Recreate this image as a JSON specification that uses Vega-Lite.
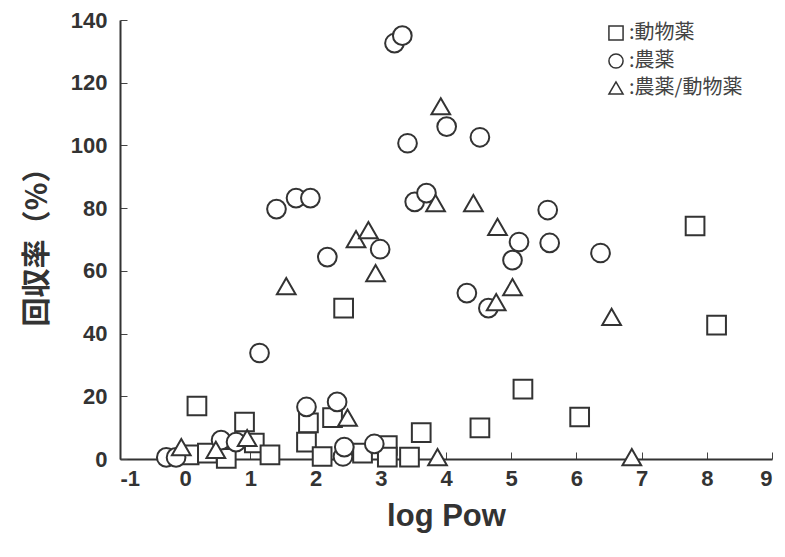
{
  "$schema": "https://vega.github.io/schema/vega-lite/v6.json",
  "width": 652,
  "height": 439,
  "autosize": "none",
  "padding": {"left": 120, "top": 20, "right": 13, "bottom": 98},
  "background": "white",
  "config": {
    "view": {"stroke": null},
    "axis": {
      "grid": false,
      "domainColor": "#333",
      "domainWidth": 2,
      "tickColor": "#444",
      "tickWidth": 1,
      "tickSize": -7,
      "labelFont": "Liberation Sans",
      "labelFontWeight": "bold",
      "labelFontSize": 22,
      "labelColor": "#333",
      "titleColor": "#333",
      "labelExpr": "'' + datum.value"
    }
  },
  "data": {
    "values": [
      {"logPow": 0.18, "rate": 16.9, "type": "動物薬"},
      {"logPow": 0.91, "rate": 11.8, "type": "動物薬"},
      {"logPow": 0.06, "rate": 1.3, "type": "動物薬"},
      {"logPow": 0.34, "rate": 1.9, "type": "動物薬"},
      {"logPow": 0.63, "rate": 0.2, "type": "動物薬"},
      {"logPow": 1.06, "rate": 5.1, "type": "動物薬"},
      {"logPow": 1.30, "rate": 1.3, "type": "動物薬"},
      {"logPow": 1.89, "rate": 11.5, "type": "動物薬"},
      {"logPow": 1.86, "rate": 5.4, "type": "動物薬"},
      {"logPow": 2.26, "rate": 13.2, "type": "動物薬"},
      {"logPow": 2.10, "rate": 0.8, "type": "動物薬"},
      {"logPow": 2.72, "rate": 1.9, "type": "動物薬"},
      {"logPow": 3.10, "rate": 4.3, "type": "動物薬"},
      {"logPow": 3.10, "rate": 0.6, "type": "動物薬"},
      {"logPow": 3.44, "rate": 0.6, "type": "動物薬"},
      {"logPow": 3.62, "rate": 8.4, "type": "動物薬"},
      {"logPow": 4.52, "rate": 9.9, "type": "動物薬"},
      {"logPow": 5.18, "rate": 22.3, "type": "動物薬"},
      {"logPow": 6.05, "rate": 13.4, "type": "動物薬"},
      {"logPow": 7.82, "rate": 74.3, "type": "動物薬"},
      {"logPow": 8.15, "rate": 42.7, "type": "動物薬"},
      {"logPow": 2.43, "rate": 48.1, "type": "動物薬"},
      {"logPow": 3.21, "rate": 132.6, "type": "農薬"},
      {"logPow": 3.33, "rate": 135.0, "type": "農薬"},
      {"logPow": 4.01, "rate": 106.0, "type": "農薬"},
      {"logPow": 3.41, "rate": 100.7, "type": "農薬"},
      {"logPow": 4.52, "rate": 102.6, "type": "農薬"},
      {"logPow": 1.40, "rate": 79.7, "type": "農薬"},
      {"logPow": 1.70, "rate": 83.2, "type": "農薬"},
      {"logPow": 1.92, "rate": 83.2, "type": "農薬"},
      {"logPow": 2.18, "rate": 64.4, "type": "農薬"},
      {"logPow": 1.14, "rate": 33.8, "type": "農薬"},
      {"logPow": 3.52, "rate": 82.0, "type": "農薬"},
      {"logPow": 3.70, "rate": 84.8, "type": "農薬"},
      {"logPow": 5.56, "rate": 79.4, "type": "農薬"},
      {"logPow": 5.12, "rate": 69.2, "type": "農薬"},
      {"logPow": 5.59, "rate": 68.9, "type": "農薬"},
      {"logPow": 5.02, "rate": 63.4, "type": "農薬"},
      {"logPow": 4.32, "rate": 52.9, "type": "農薬"},
      {"logPow": 4.65, "rate": 48.1, "type": "農薬"},
      {"logPow": 2.99, "rate": 66.9, "type": "農薬"},
      {"logPow": 6.37, "rate": 65.7, "type": "農薬"},
      {"logPow": -0.29, "rate": 0.5, "type": "農薬"},
      {"logPow": -0.14, "rate": 0.5, "type": "農薬"},
      {"logPow": 0.55, "rate": 6.0, "type": "農薬"},
      {"logPow": 0.78, "rate": 5.4, "type": "農薬"},
      {"logPow": 1.86, "rate": 16.6, "type": "農薬"},
      {"logPow": 2.33, "rate": 18.2, "type": "農薬"},
      {"logPow": 2.42, "rate": 0.8, "type": "農薬"},
      {"logPow": 2.44, "rate": 3.8, "type": "農薬"},
      {"logPow": 2.90, "rate": 4.8, "type": "農薬"},
      {"logPow": 3.92, "rate": 112.5, "type": "農薬/動物薬"},
      {"logPow": 1.55, "rate": 55.1, "type": "農薬/動物薬"},
      {"logPow": 3.84, "rate": 81.6, "type": "農薬/動物薬"},
      {"logPow": 4.42, "rate": 81.6, "type": "農薬/動物薬"},
      {"logPow": 4.79, "rate": 74.0, "type": "農薬/動物薬"},
      {"logPow": 5.02, "rate": 54.8, "type": "農薬/動物薬"},
      {"logPow": 4.77, "rate": 50.0, "type": "農薬/動物薬"},
      {"logPow": 2.62, "rate": 70.1, "type": "農薬/動物薬"},
      {"logPow": 2.81, "rate": 73.0, "type": "農薬/動物薬"},
      {"logPow": 2.92, "rate": 59.3, "type": "農薬/動物薬"},
      {"logPow": 6.54, "rate": 45.3, "type": "農薬/動物薬"},
      {"logPow": -0.06, "rate": 3.8, "type": "農薬/動物薬"},
      {"logPow": 0.47, "rate": 2.9, "type": "農薬/動物薬"},
      {"logPow": 0.95, "rate": 6.7, "type": "農薬/動物薬"},
      {"logPow": 2.49, "rate": 13.2, "type": "農薬/動物薬"},
      {"logPow": 3.87, "rate": 0.6, "type": "農薬/動物薬"},
      {"logPow": 6.85, "rate": 0.6, "type": "農薬/動物薬"}
    ]
  },
  "mark": {"type": "point", "filled": true, "fill": "white", "stroke": "#333", "strokeWidth": 2, "opacity": 1, "size": 350},
  "encoding": {
    "x": {
      "field": "logPow", "type": "quantitative",
      "scale": {"domain": [-1, 9], "nice": false, "zero": false},
      "axis": {"values": [-1, 0, 1, 2, 3, 4, 5, 6, 7, 8, 9], "labelPadding": 16, "title": "log Pow",
        "titleFont": "Liberation Sans", "titleFontSize": 31, "titleFontWeight": "bold", "titlePadding": 12}
    },
    "y": {
      "field": "rate", "type": "quantitative",
      "scale": {"domain": [0, 140], "nice": false},
      "axis": {"values": [0, 20, 40, 60, 80, 100, 120, 140], "labelPadding": 20, "title": "回収率（%）",
        "titleFont": "Noto Sans CJK JP", "titleFontSize": 29, "titleFontWeight": "bold", "titlePadding": 18}
    },
    "shape": {
      "field": "type", "type": "nominal",
      "scale": {"domain": ["動物薬", "農薬", "農薬/動物薬"], "range": ["square", "circle", "triangle-up"]},
      "legend": {
        "orient": "none", "legendX": 486, "legendY": 3, "title": null,
        "labelExpr": "':' + datum.label",
        "labelFont": "Noto Sans CJK JP", "labelFontSize": 20, "labelColor": "#444",
        "symbolSize": 200,
        "rowPadding": 6, "labelOffset": 3,
        "encode": {
          "symbols": {"update": {
            "stroke": {"value": "#555"},
            "fill": {"value": "white"},
            "strokeWidth": {"value": 1.5},
            "opacity": {"value": 1}
          }}
        }
      }
    }
  }
}
